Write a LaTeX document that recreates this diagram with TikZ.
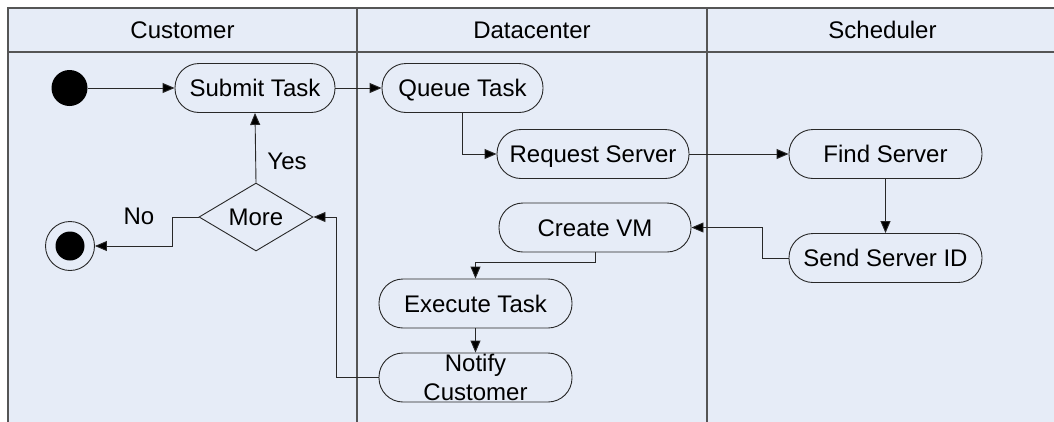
\documentclass[tikz,border=0pt]{standalone}
\usepackage{fontspec}
\setmainfont{Liberation Sans}
\usetikzlibrary{arrows.meta,shapes.geometric}
\definecolor{lanebg}{RGB}{230,236,247}
\definecolor{laneline}{RGB}{85,85,85}
\definecolor{wire}{RGB}{40,40,40}
\tikzset{
  txt/.style={font=\fontsize{24}{29}\selectfont, text=black},
  act/.style={txt, draw=wire, line width=0.9pt, rounded corners=24pt,
    minimum height=49pt, inner sep=0pt, text height=17.2pt, text depth=0pt},
  decision/.style={txt, draw=wire, line width=0.9pt, diamond, shape aspect=1.68,
    minimum width=114pt, minimum height=68pt, inner sep=0pt},
  flow/.style={draw=wire, line width=0.9pt, -{Triangle[length=12pt,width=10pt,fill=black]}},
  lane/.style={draw=laneline, line width=1.4pt},
  lanehead/.style={txt, anchor=center}
}
\begin{document}
\begin{tikzpicture}[x=1pt,y=-1pt]
\useasboundingbox (0,0) rectangle (1054,421);
% swimlane frame
\fill[lanebg] (8,8) rectangle (1060,430);
\draw[lane] (1060,8) -- (8,8) -- (8,430);
\draw[lane] (8,52) -- (1060,52);
\draw[lane, line width=1.1pt] (357,8) -- (357,430);
\draw[lane, line width=1.1pt] (707,8) -- (707,430);
\node[lanehead] (hcust) at (182.5,30) {Customer};
\node[lanehead] (hdc) at (532,30) {Datacenter};
\node[lanehead] (hsch) at (882.5,30) {Scheduler};

% start and end
\node[circle, fill=black, minimum size=36pt, inner sep=0pt] (start) at (69.5,88) {};
\node[circle, draw=wire, line width=0.9pt, minimum size=49pt, inner sep=0pt] (final) at (70,246) {};
\node[circle, fill=black, minimum size=29pt, inner sep=0pt] (finaldot) at (final.center) {};

% activities
\node[act, minimum width=160pt] (submit) at (255,88) {Submit Task};
\node[act, minimum width=161pt] (queue) at (462.5,88) {Queue Task};
\node[act, minimum width=192pt] (request) at (593,154) {Request Server};
\node[act, minimum width=193pt] (find) at (885.5,154) {Find Server};
\node[act, minimum width=193pt] (send) at (885.5,258) {Send Server ID};
\node[act, minimum width=192pt] (create) at (595,227.5) {Create VM};
\node[act, minimum width=193pt] (execute) at (475.5,303.5) {Execute Task};
\node[act, minimum width=193pt] (notify) at (475.5,377.5) {};
\node[txt, align=center, inner sep=0pt] (notifytext) at (475.5,377.5) {Notify\\Customer};
\node[decision] (more) at (256,217) {More};

% flows
\draw[flow] (start) -- (submit);
\draw[flow] (submit) -- (queue);
\draw[flow] (queue.south) |- (request.west);
\draw[flow] (request) -- (find);
\draw[flow] (find) -- (send);
\draw[flow] (send.west) -- ++(-26,0) |- (create.east);
\draw[flow] (create.south) -- ++(0,10) -| (execute.north);
\draw[flow] (execute) -- (notify);
\draw[flow] (notify.west) -- ++(-42,0) |- (more.east);
\draw[flow] (more.north) -- node[txt, right, pos=0.3, xshift=8pt] {Yes} (submit.south);
\draw[flow] (more.west) -- ++(-26,0) coordinate (nobend) |- (final.east);
\node[txt] (nolabel) at (139,216) {No};
\end{tikzpicture}
\end{document}
